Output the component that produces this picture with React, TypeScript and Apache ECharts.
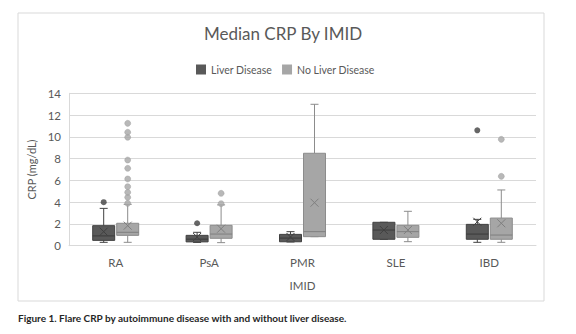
import React, { useEffect, useRef } from "react";
import * as echarts from "echarts";

const categories = ["RA", "PsA", "PMR", "SLE", "IBD"];
const yTicks = [0, 2, 4, 6, 8, 10, 12, 14];

// Liver Disease
const liverMin = [0.31, 0.3, 0.34, 0.59, 0.31];
const liverQ1 = [0.49, 0.35, 0.36, 0.59, 0.59];
const liverMedian = [0.9, 0.6, 0.7, 1.44, 1.07];
const liverQ3 = [1.84, 0.95, 1.04, 2.15, 1.96];
const liverMax = [3.43, 1.23, 1.29, 2.15, 2.42];
const liverMean = [1.29, 0.8, 0.8, 1.44, 2.2];
const liverOutlierCat = ["RA", "PsA", "IBD"];
const liverOutlierVal = [4.0, 2.06, 10.6];

// No Liver Disease
const noLiverMin = [0.31, 0.28, 0.83, 0.37, 0.31];
const noLiverQ1 = [0.95, 0.68, 0.83, 0.77, 0.59];
const noLiverMedian = [1.23, 1.07, 1.29, 1.29, 0.98];
const noLiverQ3 = [2.06, 1.87, 8.49, 1.87, 2.54];
const noLiverMax = [3.8, 3.75, 12.99, 3.16, 5.12];
const noLiverMean = [1.84, 1.56, 3.95, 1.44, 2.06];
const noLiverOutlierCat = ["RA", "RA", "RA", "RA", "RA", "RA", "RA", "RA", "RA", "RA", "PsA", "PsA", "IBD", "IBD"];
const noLiverOutlierVal = [3.89, 4.44, 4.9, 5.42, 6.13, 7.11, 7.87, 9.96, 10.42, 11.24, 3.86, 4.81, 6.37, 9.77];

const FONT = "Lato, 'Open Sans', sans-serif";
const OFFSET = 12;
const HALF = 11;

function makeRender(offset: number, fill: string, stroke: string, whisker: string, median: string, meanColor: string) {
  return (params: any, api: any) => {
    const cat = api.value(0);
    const pMin = api.coord([cat, api.value(1)]);
    const pQ1 = api.coord([cat, api.value(2)]);
    const pMed = api.coord([cat, api.value(3)]);
    const pQ3 = api.coord([cat, api.value(4)]);
    const pMax = api.coord([cat, api.value(5)]);
    const pMean = api.coord([cat, api.value(6)]);
    const x = pMin[0] + offset;
    const ls = { stroke: whisker, lineWidth: 1 };
    return {
      type: "group",
      children: [
        { type: "line", shape: { x1: x, y1: pMax[1], x2: x, y2: pQ3[1] }, style: ls },
        { type: "line", shape: { x1: x, y1: pQ1[1], x2: x, y2: pMin[1] }, style: ls },
        { type: "line", shape: { x1: x - 4, y1: pMax[1], x2: x + 4, y2: pMax[1] }, style: ls },
        { type: "line", shape: { x1: x - 4, y1: pMin[1], x2: x + 4, y2: pMin[1] }, style: ls },
        {
          type: "rect",
          shape: { x: x - HALF, y: pQ3[1], width: HALF * 2, height: pQ1[1] - pQ3[1] },
          style: { fill, stroke, lineWidth: 1 },
        },
        { type: "line", shape: { x1: x - HALF, y1: pMed[1], x2: x + HALF, y2: pMed[1] }, style: { stroke: median, lineWidth: 1 } },
        { type: "line", shape: { x1: x - 4, y1: pMean[1] - 4, x2: x + 4, y2: pMean[1] + 4 }, style: { stroke: meanColor, lineWidth: 1 } },
        { type: "line", shape: { x1: x - 4, y1: pMean[1] + 4, x2: x + 4, y2: pMean[1] - 4 }, style: { stroke: meanColor, lineWidth: 1 } },
      ],
    };
  };
}

export default function App() {
  const ref = useRef<HTMLDivElement>(null);
  useEffect(() => {
    if (!ref.current) return;
    const chart = echarts.init(ref.current, undefined, { renderer: "svg" });
    const liverData = categories.map((_, i) => [i, liverMin[i], liverQ1[i], liverMedian[i], liverQ3[i], liverMax[i], liverMean[i]]);
    const noLiverData = categories.map((_, i) => [i, noLiverMin[i], noLiverQ1[i], noLiverMedian[i], noLiverQ3[i], noLiverMax[i], noLiverMean[i]]);
    const liverOut = liverOutlierCat.map((c, i) => [categories.indexOf(c), liverOutlierVal[i]]);
    const noLiverOut = noLiverOutlierCat.map((c, i) => [categories.indexOf(c), noLiverOutlierVal[i]]);

    chart.setOption({
      animation: false,
      textStyle: { fontFamily: FONT },
      title: {
        text: "Median CRP By IMID",
        left: 278,
        textAlign: "center",
        top: 20,
        textStyle: { fontFamily: FONT, fontSize: 17, fontWeight: "normal", color: "#595959" },
      },
      legend: {
        data: ["Liver Disease", "No Liver Disease"],
        left: 191,
        top: 59,
        icon: "rect",
        itemWidth: 10,
        itemHeight: 10,
        itemGap: 10,
        textStyle: { fontFamily: FONT, fontSize: 10.5, color: "#595959" },
      },
      grid: { left: 69, right: 40, top: 93.3, bottom: 88.3, containLabel: false },
      xAxis: {
        type: "category",
        data: categories,
        name: "IMID",
        nameLocation: "middle",
        nameGap: 34,
        nameTextStyle: { fontFamily: FONT, fontSize: 11.5, color: "#595959" },
        axisLine: { lineStyle: { color: "#d9d9d9" } },
        axisTick: { show: false },
        axisLabel: { fontFamily: FONT, fontSize: 11.5, color: "#595959", margin: 11 },
      },
      yAxis: {
        type: "value",
        min: 0,
        max: 14,
        interval: 2,
        name: "CRP (mg/dL)",
        nameLocation: "middle",
        nameGap: 28,
        nameTextStyle: { fontFamily: FONT, fontSize: 11, color: "#595959" },
        axisLine: { show: true, lineStyle: { color: "#d9d9d9" } },
        axisTick: { show: false },
        axisLabel: {
          fontFamily: FONT,
          fontSize: 11.5,
          color: "#595959",
          margin: 8,
          formatter: (v: number) => (yTicks.includes(v) ? String(v) : ""),
        },
        splitLine: { lineStyle: { color: "#d9d9d9" } },
      },
      graphic: [
        {
          type: "rect",
          shape: { x: 18, y: 13, width: 526, height: 288 },
          style: { fill: "none", stroke: "#d9d9d9", lineWidth: 1 },
          silent: true,
        },
        {
          type: "text",
          left: 18,
          top: 313,
          style: {
            text: "Figure 1. Flare CRP by autoimmune disease with and without liver disease.",
            font: "bold 10px " + FONT,
            fill: "#262626",
          },
        },
      ],
      series: [
        {
          type: "custom",
          name: "Liver Disease",
          itemStyle: { color: "#595959" },
          encode: { x: 0, y: [1, 2, 3, 4, 5, 6] },
          renderItem: makeRender(-OFFSET, "#595959", "#404040", "#404040", "#3a3a3a", "#404040"),
          data: liverData,
          z: 3,
        },
        {
          type: "custom",
          name: "No Liver Disease",
          itemStyle: { color: "#a6a6a6" },
          encode: { x: 0, y: [1, 2, 3, 4, 5, 6] },
          renderItem: makeRender(OFFSET, "#a6a6a6", "#8c8c8c", "#8c8c8c", "#7f7f7f", "#7f7f7f"),
          data: noLiverData,
          z: 3,
        },
        {
          type: "scatter",
          name: "Liver Disease",
          symbol: "circle",
          symbolSize: 6,
          symbolOffset: [-OFFSET, 0],
          itemStyle: { color: "#404040" },
          data: liverOut,
          z: 4,
        },
        {
          type: "scatter",
          name: "No Liver Disease",
          symbol: "circle",
          symbolSize: 6,
          symbolOffset: [OFFSET, 0],
          itemStyle: { color: "#a6a6a6", borderColor: "#999999", borderWidth: 0.5 },
          data: noLiverOut,
          z: 4,
        },
      ],
    });
    return () => chart.dispose();
  }, []);
  return <div ref={ref} style={{ position: "fixed", left: 0, top: 0, width: 576, height: 334, background: "#fff" }} />;
}
